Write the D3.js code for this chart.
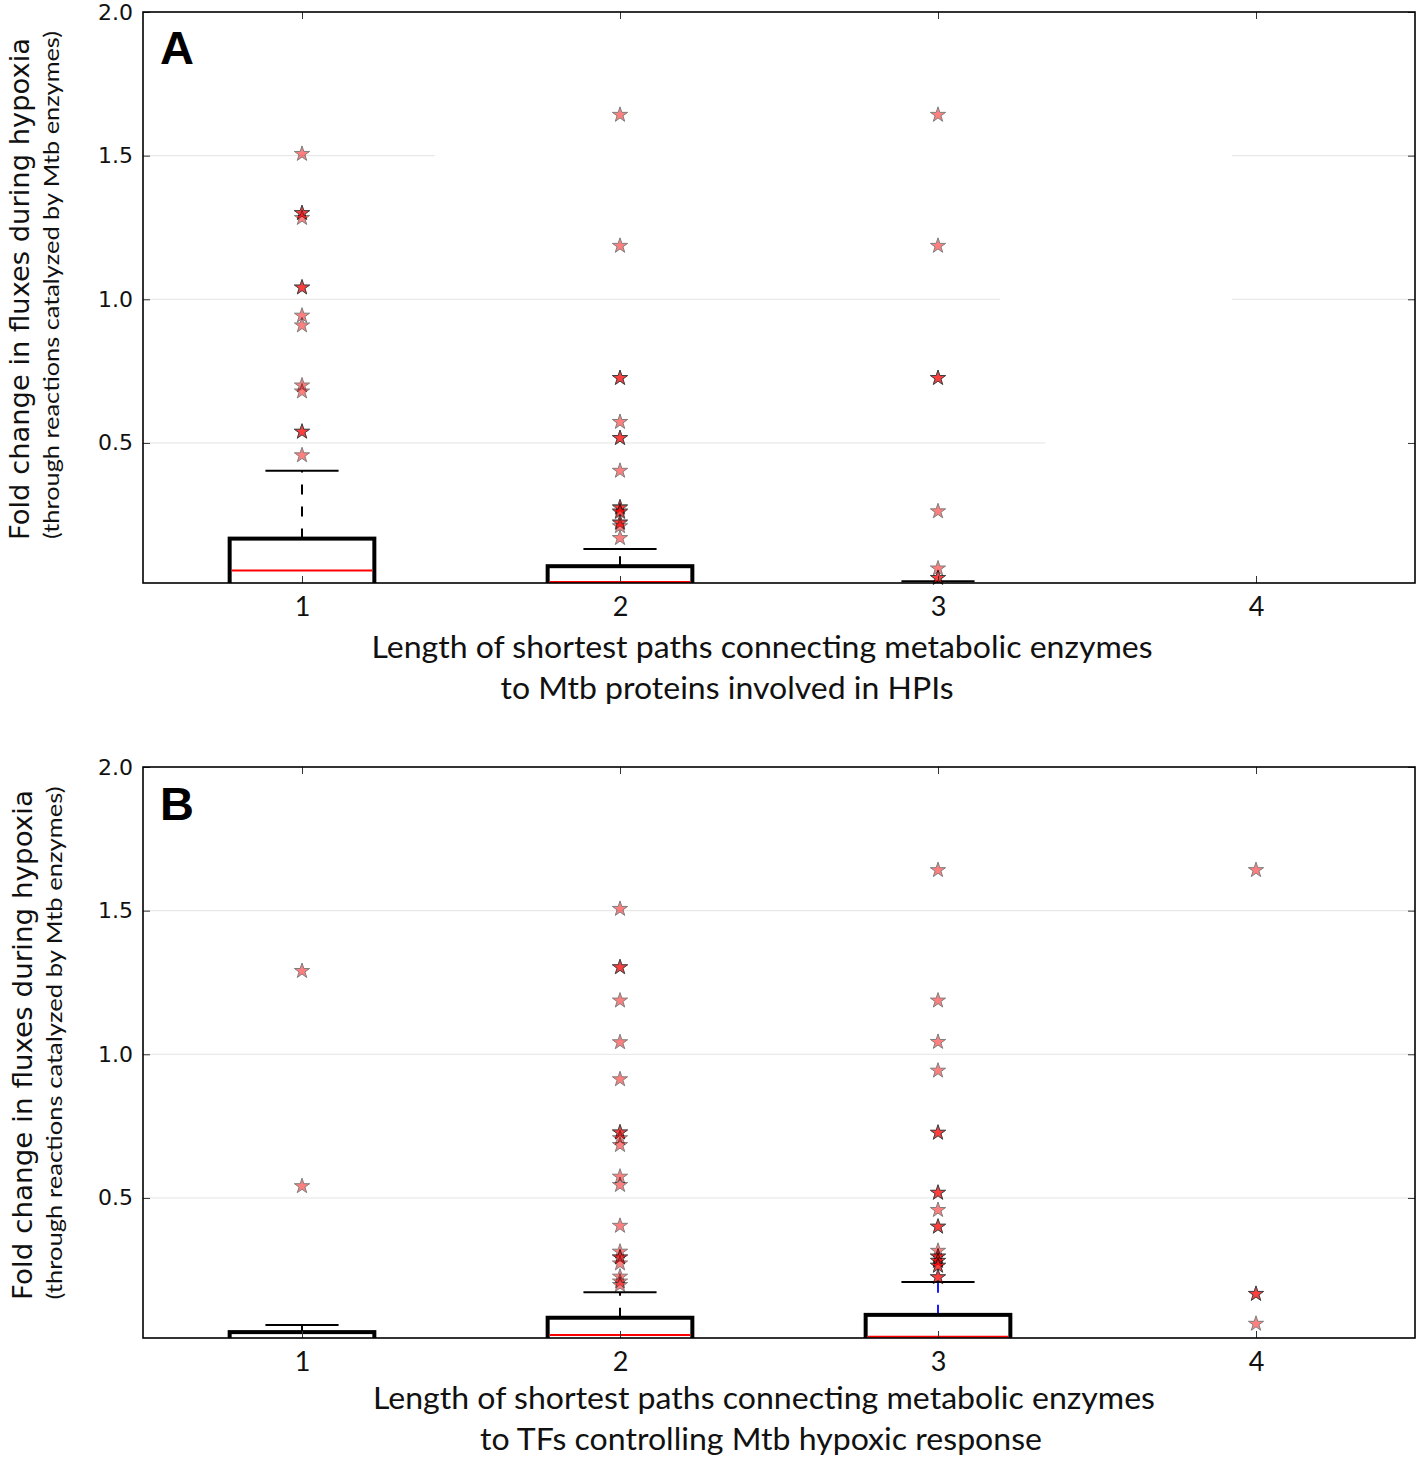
<!DOCTYPE html>
<html>
<head>
<meta charset="utf-8">
<script src="https://d3js.org/d3.v7.min.js"></script>
<style>
  body { margin: 0; background: #fff; }
  svg { display: block; }
</style>
</head>
<body>
<script>
'use strict';

// shared axis values
const categories = [1, 2, 3, 4];
const yTicks = [0.5, 1.0, 1.5, 2.0];

// panel A : box stats per path length (null = no box)
const q1A = [0, 0, 0, null];
const medA = [0.056, 0.016, 0, null];
const q3A = [0.167, 0.071, 0, null];
const capA = [0.403, 0.131, 0.019, null];
const outA = [
  [1.506, 1.300, 1.300, 1.283, 1.041, 1.041, 0.943, 0.909, 0.700, 0.679, 0.539, 0.539, 0.457],
  [1.642, 1.186, 0.726, 0.726, 0.573, 0.517, 0.517, 0.403, 0.277, 0.274, 0.262, 0.259, 0.224, 0.221, 0.210, 0.169],
  [1.642, 1.186, 0.726, 0.726, 0.262, 0.063, 0.030, 0.030],
  []
];

// panel B
const q1B = [0, 0, 0, null];
const medB = [0, 0.023, 0.017, null];
const q3B = [0.033, 0.083, 0.093, null];
const capB = [0.058, 0.172, 0.207, null];
const outB = [
  [1.290, 0.541],
  [1.506, 1.303, 1.303, 1.187, 1.042, 0.913, 0.728, 0.728, 0.708, 0.684, 0.574, 0.545, 0.403, 0.313, 0.293, 0.293, 0.272, 0.226, 0.209, 0.197],
  [1.641, 1.187, 1.043, 0.943, 0.727, 0.727, 0.518, 0.518, 0.458, 0.400, 0.400, 0.316, 0.296, 0.296, 0.281, 0.281, 0.264, 0.264, 0.224, 0.224],
  [1.641, 0.166, 0.166, 0.062]
];

// faint grid pieces in panel A are broken, keep them as x ranges
const gridA = [
  { v: 1.5, xs: [[0.5, 1.418], [3.924, 4.5]] },
  { v: 1.0, xs: [[0.5, 3.195], [3.924, 4.5]] },
  { v: 0.5, xs: [[0.5, 3.337]] }
];
const gridB = [
  { v: 1.5, xs: [[0.5, 4.5]] },
  { v: 1.0, xs: [[0.5, 4.5]] },
  { v: 0.5, xs: [[0.5, 4.5]] }
];

const width = 1418, height = 1460;
const plotLeft = 143, plotW = 1272, plotH = 571;
const boxW = 0.455, capW = 0.23;

const svg = d3.select("body").append("svg")
  .attr("width", width)
  .attr("height", height);

const panels = [
  {
    id: "A", top: 12, q1: q1A, med: medA, q3: q3A, cap: capA, out: outA, grid: gridA,
    whisker: ["#000", "#000", "#000", "#000"],
    xlab: [
      { t: "Length of shortest paths connecting metabolic enzymes", cx: 762, y: 658, len: 781 },
      { t: "to Mtb proteins involved in HPIs", cx: 727, y: 699, len: 453 }
    ],
    ylab1: { cx: 29, cy: 289, len: 502 },
    ylab2: { cx: 59, cy: 285, len: 508 }
  },
  {
    id: "B", top: 767, q1: q1B, med: medB, q3: q3B, cap: capB, out: outB, grid: gridB,
    whisker: ["#000", "#000", "#1a1aff", "#000"],
    xlab: [
      { t: "Length of shortest paths connecting metabolic enzymes", cx: 764, y: 1409, len: 782 },
      { t: "to TFs controlling Mtb hypoxic response", cx: 761, y: 1450, len: 562 }
    ],
    ylab1: { cx: 32, cy: 1045, len: 510 },
    ylab2: { cx: 62, cy: 1043, len: 513 }
  }
];

const x = d3.scaleLinear().domain([0.5, 4.5]).range([0, plotW]);
const y = d3.scaleLinear().domain([0.0125, 2]).range([plotH, 0]);
const star = d3.symbol().type(d3.symbolStar).size(72);

panels.forEach((p) => {
  const g = svg.append("g").attr("transform", `translate(${plotLeft}, ${p.top})`);

  g.append("clipPath").attr("id", "clip" + p.id)
    .append("rect").attr("width", plotW).attr("height", plotH);

  const inner = g.append("g").attr("clip-path", `url(#clip${p.id})`);

  // grid
  p.grid.forEach(gl => {
    gl.xs.forEach(r => {
      inner.append("line")
        .attr("x1", x(r[0])).attr("x2", x(r[1]))
        .attr("y1", y(gl.v)).attr("y2", y(gl.v))
        .attr("stroke", "#e4e4e4").attr("stroke-width", 1);
    });
  });

  categories.forEach((c, i) => {
    if (p.q3[i] === null) return;
    // whisker
    inner.append("line")
      .attr("x1", x(c)).attr("x2", x(c))
      .attr("y1", y(p.q3[i])).attr("y2", y(p.cap[i]))
      .attr("stroke", p.whisker[i]).attr("stroke-width", 2)
      .attr("stroke-dasharray", "10,12");
    // cap
    inner.append("line")
      .attr("x1", x(c - capW / 2)).attr("x2", x(c + capW / 2))
      .attr("y1", y(p.cap[i])).attr("y2", y(p.cap[i]))
      .attr("stroke", "#000").attr("stroke-width", 2);
    // box
    inner.append("rect")
      .attr("x", x(c - boxW / 2))
      .attr("width", x(c + boxW / 2) - x(c - boxW / 2))
      .attr("y", y(p.q3[i]))
      .attr("height", Math.max(0, y(p.q1[i]) - y(p.q3[i])))
      .attr("fill", "#fff")
      .attr("stroke", "#000").attr("stroke-width", 4);
    // median
    inner.append("line")
      .attr("x1", x(c - boxW / 2) + 2).attr("x2", x(c + boxW / 2) - 2)
      .attr("y1", y(p.med[i])).attr("y2", y(p.med[i]))
      .attr("stroke", "red").attr("stroke-width", 2);
  });

  // outliers
  categories.forEach((c, i) => {
    g.selectAll(null)
      .data(p.out[i])
      .enter()
      .append("path")
      .attr("d", star)
      .attr("transform", d => `translate(${x(c)}, ${y(d)})`)
      .attr("fill", "red")
      .attr("stroke", "#000")
      .attr("stroke-width", 1)
      .attr("opacity", 0.5);
  });

  // axes, ticks inward on all sides
  const tickStyle = sel => {
    sel.select(".domain").remove();
    sel.selectAll(".tick line").attr("stroke", "#333");
  };

  g.append("g")
    .call(d3.axisLeft(y).tickValues(yTicks).tickSize(-7).tickPadding(10).tickFormat(d3.format(".1f")))
    .call(tickStyle)
    .selectAll("text")
    .style("font-family", "DejaVu Sans")
    .style("font-size", "22px")
    .attr("fill", "#111");

  g.append("g")
    .attr("transform", `translate(${plotW}, 0)`)
    .call(d3.axisRight(y).tickValues(yTicks).tickSize(-7).tickFormat(""))
    .call(tickStyle);

  g.append("g")
    .attr("transform", `translate(0, ${plotH})`)
    .call(d3.axisBottom(x).tickValues(categories).tickSize(-7).tickPadding(14).tickFormat(d3.format("d")))
    .call(tickStyle)
    .selectAll("text")
    .style("font-family", "Lato")
    .style("font-size", "27px")
    .attr("fill", "#111");

  g.append("g")
    .call(d3.axisTop(x).tickValues(categories).tickSize(-7).tickFormat(""))
    .call(tickStyle);

  g.append("rect")
    .attr("width", plotW).attr("height", plotH)
    .attr("fill", "none")
    .attr("stroke", "#000").attr("stroke-width", 1.6);

  // panel letter
  g.append("text")
    .attr("x", 17).attr("y", p.id === "A" ? 52 : 53)
    .style("font-family", "Liberation Sans")
    .style("font-weight", "bold")
    .style("font-size", "47px")
    .text(p.id);

  // x labels
  p.xlab.forEach(l => {
    svg.append("text")
      .attr("x", l.cx).attr("y", l.y)
      .attr("text-anchor", "middle")
      .attr("textLength", l.len)
      .attr("lengthAdjust", "spacingAndGlyphs")
      .style("font-family", "Lato")
      .style("font-size", "30px")
      .attr("fill", "#111")
      .text(l.t);
  });

  // y labels
  svg.append("text")
    .attr("transform", `translate(${p.ylab1.cx}, ${p.ylab1.cy}) rotate(-90)`)
    .attr("text-anchor", "middle")
    .attr("textLength", p.ylab1.len)
    .attr("lengthAdjust", "spacingAndGlyphs")
    .style("font-family", "DejaVu Sans")
    .style("font-size", "26px")
    .attr("fill", "#111")
    .text("Fold change in fluxes during hypoxia");

  svg.append("text")
    .attr("transform", `translate(${p.ylab2.cx}, ${p.ylab2.cy}) rotate(-90)`)
    .attr("text-anchor", "middle")
    .attr("textLength", p.ylab2.len)
    .attr("lengthAdjust", "spacingAndGlyphs")
    .style("font-family", "Lato")
    .style("font-size", "21px")
    .attr("fill", "#111")
    .text("(through reactions catalyzed by Mtb enzymes)");
});
</script>
</body>
</html>
